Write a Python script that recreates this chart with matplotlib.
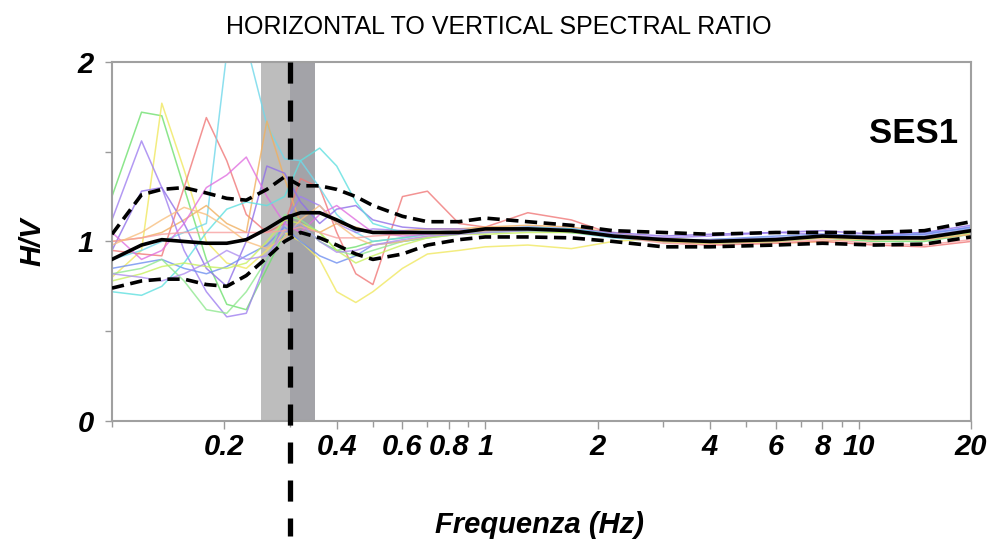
import numpy as np
import matplotlib.pyplot as plt
from matplotlib import font_manager
from matplotlib.ticker import FixedLocator, NullFormatter
import matplotlib.transforms as mtransforms

# frequenze (Hz) a cui sono letti i valori
freq = [0.10, 0.12, 0.136, 0.156, 0.179, 0.203, 0.229, 0.26, 0.29, 0.32, 0.36,
        0.40, 0.45, 0.50, 0.60, 0.70, 0.85,
        1.0, 1.3, 1.7, 2.2, 3.0, 4.0, 6.0, 8.0, 11.0, 15.0, 20.0]

hv_mean = [0.90, 0.98, 1.01, 1.00, 0.99, 0.99, 1.01, 1.07, 1.13, 1.16, 1.16,
           1.12, 1.07, 1.05, 1.05, 1.05, 1.05,
           1.07, 1.07, 1.06, 1.03, 1.01, 1.00, 1.01, 1.03, 1.02, 1.02, 1.06]
hv_upper = [1.04, 1.26, 1.29, 1.30, 1.27, 1.24, 1.23, 1.29, 1.36, 1.31, 1.31,
            1.29, 1.25, 1.20, 1.14, 1.11, 1.11,
            1.13, 1.11, 1.09, 1.06, 1.05, 1.04, 1.05, 1.05, 1.05, 1.06, 1.11]
hv_lower = [0.74, 0.78, 0.79, 0.79, 0.76, 0.75, 0.81, 0.91, 1.00, 1.05, 1.02,
            0.98, 0.93, 0.90, 0.93, 0.98, 1.01,
            1.025, 1.025, 1.02, 1.00, 0.97, 0.97, 0.98, 0.99, 0.98, 0.985, 1.025]

# singole finestre (curve colorate)
windows = {
    '#6fe06f': [1.25, 1.72, 1.70, 1.30, 0.90, 0.65, 0.62, 0.85, 1.05, 1.10, 1.00,
                0.95, 0.97, 1.00, 1.02, 1.04, 1.05,
                1.05, 1.06, 1.05, 1.03, 1.00, 0.99, 1.00, 1.02, 1.00, 1.00, 1.04],
    '#f0e860': [0.80, 0.95, 1.77, 1.40, 1.00, 0.88, 0.85, 0.95, 1.05, 1.00, 0.90,
                0.72, 0.66, 0.72, 0.85, 0.93, 0.95,
                0.97, 0.98, 0.96, 1.00, 1.02, 1.00, 0.99, 1.00, 1.02, 1.03, 1.06],
    '#f07878': [0.95, 0.93, 0.92, 1.30, 1.69, 1.45, 1.15, 1.05, 1.10, 1.35, 1.30,
                1.05, 0.82, 0.76, 1.25, 1.28, 1.10,
                1.08, 1.16, 1.12, 1.04, 1.00, 0.98, 0.99, 1.00, 0.98, 0.97, 1.00],
    '#70d8ea': [0.90, 0.95, 1.00, 1.05, 1.10, 2.05, 2.10, 1.65, 1.46, 1.45, 1.30,
                1.15, 1.05, 1.00, 1.02, 1.04, 1.05,
                1.06, 1.07, 1.05, 1.02, 1.00, 1.00, 1.02, 1.02, 1.02, 1.05, 1.07],
    '#f0b060': [1.00, 1.02, 1.05, 1.12, 1.20, 1.10, 1.05, 1.67, 1.35, 1.10, 1.05,
                1.10, 1.08, 1.05, 1.06, 1.07, 1.07,
                1.08, 1.09, 1.08, 1.05, 1.01, 1.00, 1.02, 1.03, 1.02, 1.01, 1.04],
    '#a080f0': [1.12, 1.56, 1.30, 0.95, 0.72, 0.58, 0.60, 0.90, 1.10, 1.25, 1.20,
                1.10, 1.05, 1.07, 1.06, 1.05, 1.06,
                1.06, 1.07, 1.06, 1.04, 1.02, 1.03, 1.05, 1.04, 1.03, 1.04, 1.08],
    '#9070e8': [0.95, 1.28, 1.30, 1.10, 0.85, 0.75, 1.00, 1.42, 1.38, 1.22, 1.10,
                1.18, 1.20, 1.12, 1.08, 1.07, 1.07,
                1.06, 1.08, 1.07, 1.05, 1.03, 1.04, 1.05, 1.06, 1.04, 1.05, 1.09],
    '#e070e0': [1.05, 0.90, 0.95, 1.10, 1.30, 1.37, 1.47, 1.25, 1.10, 1.05, 1.15,
                1.20, 1.12, 1.05, 1.03, 1.04, 1.06,
                1.07, 1.08, 1.07, 1.04, 1.00, 1.00, 1.01, 1.02, 1.01, 1.02, 1.06],
    '#7090f0': [0.85, 0.88, 0.90, 0.85, 0.82, 0.86, 0.92, 0.98, 1.08, 1.00, 0.92,
                0.88, 0.92, 0.98, 1.00, 1.02, 1.05,
                1.06, 1.07, 1.07, 1.04, 1.00, 1.01, 1.03, 1.04, 1.03, 1.04, 1.08],
    '#60e0e0': [0.72, 0.70, 0.75, 0.88, 1.05, 1.18, 1.22, 1.20, 1.25, 1.45, 1.52,
                1.42, 1.22, 1.10, 1.05, 1.05, 1.06,
                1.07, 1.08, 1.07, 1.04, 1.01, 1.01, 1.02, 1.03, 1.02, 1.03, 1.07],
    '#90e890': [0.82, 0.85, 0.90, 0.78, 0.62, 0.60, 0.72, 0.90, 1.15, 1.12, 1.05,
                0.95, 0.92, 0.95, 1.00, 1.02, 1.04,
                1.05, 1.06, 1.05, 1.03, 1.00, 0.99, 1.00, 1.02, 1.01, 1.01, 1.05],
    '#c8f060': [0.78, 0.82, 0.86, 0.88, 0.86, 0.85, 0.88, 1.00, 1.12, 1.10, 1.05,
                0.95, 0.88, 0.92, 0.98, 1.02, 1.04,
                1.04, 1.05, 1.05, 1.03, 1.00, 0.99, 1.01, 1.02, 1.01, 1.02, 1.05],
    '#f8a0a0': [1.00, 1.02, 1.04, 1.05, 1.05, 1.05, 1.05, 1.05, 1.06, 1.08, 1.05,
                1.02, 1.02, 1.03, 1.04, 1.05, 1.06,
                1.06, 1.07, 1.06, 1.03, 0.99, 0.98, 0.99, 1.01, 0.99, 0.98, 1.01],
    '#f8c080': [0.98, 1.05, 1.12, 1.19, 1.15, 1.08, 1.00, 0.96, 1.02, 1.12, 1.20,
                1.10, 1.02, 0.98, 1.00, 1.03, 1.05,
                1.06, 1.07, 1.06, 1.03, 1.00, 0.99, 1.00, 1.02, 1.01, 1.01, 1.04],
    '#b090f0': [0.82, 0.80, 0.78, 0.82, 0.88, 0.95, 0.90, 0.92, 1.05, 1.10, 1.00,
                0.94, 0.95, 0.98, 1.01, 1.03, 1.04,
                1.05, 1.06, 1.06, 1.04, 1.01, 1.01, 1.02, 1.03, 1.02, 1.03, 1.07],
}

peak_freq = 0.30
band_lo = [0.25, 0.30]
band_hi = [0.30, 0.35]

fig = plt.figure(figsize=(9.97, 5.49), dpi=100)
ax = fig.add_axes([0.1123, 0.2332, 0.8616, 0.654])

ax.axvspan(band_lo[0], band_lo[1], color='#bdbdbd', lw=0, zorder=1)
ax.axvspan(band_hi[0], band_hi[1], color='#a3a3a8', lw=0, zorder=1)

for c, v in windows.items():
    ax.plot(freq, v, color=c, lw=1.1, alpha=0.8, zorder=2)

ax.plot(freq, hv_mean, color='black', lw=2.6, zorder=4)
ax.plot(freq, hv_upper, color='black', lw=2.6, dashes=(3.4, 1.8), zorder=4)
ax.plot(freq, hv_lower, color='black', lw=2.6, dashes=(3.4, 1.8), zorder=4)

# linea verticale del picco, prosegue sotto l'asse
trans = mtransforms.blended_transform_factory(ax.transData, ax.transAxes)
ax.plot([peak_freq, peak_freq], [1.0, -0.32], transform=trans, color='black',
        lw=3.8, dashes=(4.0, 3.2), clip_on=False, zorder=5)

ax.set_xscale('log')
ax.set_xlim(0.1, 20)
ax.set_ylim(0, 2)

xt = [0.2, 0.4, 0.6, 0.8, 1, 2, 4, 6, 8, 10, 20]
xl = ['0.2', '0.4', '0.6', '0.8', '1', '2', '4', '6', '8', '10', '20']
ax.xaxis.set_major_locator(FixedLocator(xt))
ax.set_xticklabels(xl)
ax.xaxis.set_minor_locator(FixedLocator([0.1, 0.3, 0.5, 0.7, 0.9, 3, 5, 7, 9]))
ax.xaxis.set_minor_formatter(NullFormatter())
ax.set_yticks([0, 1, 2])
ax.set_yticklabels(['0', '1', '2'])
ax.yaxis.set_minor_locator(FixedLocator([0.5, 1.5]))

tick_font = dict(family=['Liberation Sans', 'DejaVu Sans'], weight='bold', style='italic', size=21)
for lab in ax.get_xticklabels() + ax.get_yticklabels():
    lab.set_fontproperties(font_manager.FontProperties(**tick_font))

ax.tick_params(which='both', direction='out', color='#9a9a9a', width=1)
ax.tick_params(axis='x', which='major', length=6, pad=3)
ax.tick_params(axis='x', which='minor', length=4)
ax.tick_params(axis='y', which='major', length=5, pad=8)
ax.tick_params(axis='y', which='minor', length=5)
for s in ax.spines.values():
    s.set_color('#a0a0a0')
    s.set_linewidth(1.5)

ax.set_xlabel('Frequenza (Hz)', fontdict=tick_font)
ax.xaxis.set_label_coords(0.498, -0.25)
ax.set_ylabel('H/V', fontdict=tick_font)
ax.yaxis.set_label_coords(-0.076, 0.5)

ax.text(0.985, 0.80, 'SES1', transform=ax.transAxes, ha='right', va='center',
        family='Liberation Sans', weight='bold', size=25)
fig.text(0.5, 0.95, 'HORIZONTAL TO VERTICAL SPECTRAL RATIO', ha='center', va='center',
         family='Liberation Sans', size=18)

fig.savefig('out.png', dpi=100)
